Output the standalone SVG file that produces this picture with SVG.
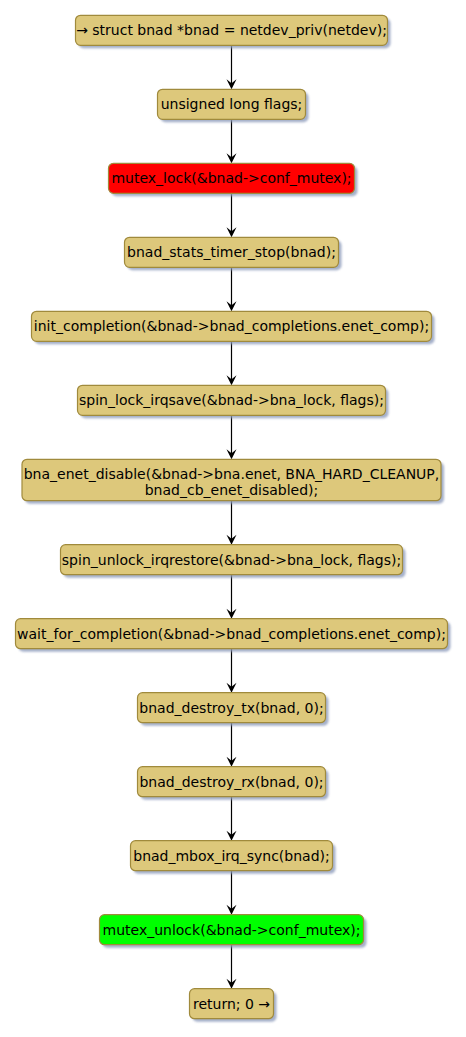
<svg xmlns="http://www.w3.org/2000/svg" width="466" height="1037" viewBox="0 0 466 1037">
<style>
.n rect.b{fill:#DDC87B;stroke:#A08A3C;stroke-width:1.2}
.n rect.s{fill:#8E9CBC;opacity:0.8;filter:url(#blur)}
.n text{font-family:"DejaVu Sans",sans-serif;font-size:14px;fill:#000;text-anchor:middle}
.c line{stroke:#000;stroke-width:1.2}
.c path{fill:#000}
</style>
<defs>
<filter id="blur" x="-10%" y="-30%" width="120%" height="160%"><feGaussianBlur stdDeviation="1"/></filter>
</defs>
<rect width="466" height="1037" fill="#fff"/>
<g class="c">
<line x1="231.5" y1="45.3" x2="231.5" y2="85"/><path d="M226.5,79.3 L231.5,89.3 L236.5,79.3 L231.5,83.3 Z"/>
<line x1="231.5" y1="119.3" x2="231.5" y2="159"/><path d="M226.5,153.3 L231.5,163.3 L236.5,153.3 L231.5,157.3 Z"/>
<line x1="231.5" y1="193.3" x2="231.5" y2="233"/><path d="M226.5,227.3 L231.5,237.3 L236.5,227.3 L231.5,231.3 Z"/>
<line x1="231.5" y1="267.3" x2="231.5" y2="307"/><path d="M226.5,301.3 L231.5,311.3 L236.5,301.3 L231.5,305.3 Z"/>
<line x1="231.5" y1="341.3" x2="231.5" y2="381"/><path d="M226.5,375.3 L231.5,385.3 L236.5,375.3 L231.5,379.3 Z"/>
<line x1="231.5" y1="415.3" x2="231.5" y2="455"/><path d="M226.5,449.3 L231.5,459.3 L236.5,449.3 L231.5,453.3 Z"/>
<line x1="231.5" y1="500.7" x2="231.5" y2="540"/><path d="M226.5,534.7 L231.5,544.7 L236.5,534.7 L231.5,538.7 Z"/>
<line x1="231.5" y1="574.7" x2="231.5" y2="614"/><path d="M226.5,608.7 L231.5,618.7 L236.5,608.7 L231.5,612.7 Z"/>
<line x1="231.5" y1="648.7" x2="231.5" y2="688"/><path d="M226.5,682.7 L231.5,692.7 L236.5,682.7 L231.5,686.7 Z"/>
<line x1="231.5" y1="722.7" x2="231.5" y2="762"/><path d="M226.5,756.7 L231.5,766.7 L236.5,756.7 L231.5,760.7 Z"/>
<line x1="231.5" y1="796.7" x2="231.5" y2="836"/><path d="M226.5,830.7 L231.5,840.7 L236.5,830.7 L231.5,834.7 Z"/>
<line x1="231.5" y1="870.7" x2="231.5" y2="910"/><path d="M226.5,904.7 L231.5,914.7 L236.5,904.7 L231.5,908.7 Z"/>
<line x1="231.5" y1="944.7" x2="231.5" y2="984"/><path d="M226.5,978.7 L231.5,988.7 L236.5,978.7 L231.5,982.7 Z"/>
</g>
<g id="n1" class="n"><rect class="s" x="78.5" y="18.3" width="312" height="30" rx="5"/><rect class="b" x="75.5" y="15.3" width="312" height="30" rx="5"/><text x="231.5" y="35.3">→ struct bnad *bnad = netdev_priv(netdev);</text></g>
<g id="n2" class="n"><rect class="s" x="160.5" y="92.3" width="148" height="30" rx="5"/><rect class="b" x="157.5" y="89.3" width="148" height="30" rx="5"/><text x="231.5" y="109.3">unsigned long flags;</text></g>
<g id="n3" class="n"><rect class="s" x="111.5" y="166.3" width="246" height="30" rx="5"/><rect class="b" x="108.5" y="163.3" width="246" height="30" rx="5" style="fill:#FF0000"/><text x="231.5" y="183.3">mutex_lock(&amp;bnad-&gt;conf_mutex);</text></g>
<g id="n4" class="n"><rect class="s" x="127.5" y="240.3" width="214" height="30" rx="5"/><rect class="b" x="124.5" y="237.3" width="214" height="30" rx="5"/><text x="231.5" y="257.3">bnad_stats_timer_stop(bnad);</text></g>
<g id="n5" class="n"><rect class="s" x="34.5" y="314.3" width="400" height="30" rx="5"/><rect class="b" x="31.5" y="311.3" width="400" height="30" rx="5"/><text x="231.5" y="331.3">init_completion(&amp;bnad-&gt;bnad_completions.enet_comp);</text></g>
<g id="n6" class="n"><rect class="s" x="80.5" y="388.3" width="308" height="30" rx="5"/><rect class="b" x="77.5" y="385.3" width="308" height="30" rx="5"/><text x="231.5" y="405.3">spin_lock_irqsave(&amp;bnad-&gt;bna_lock, flags);</text></g>
<g id="n7" class="n"><rect class="s" x="25" y="462.3" width="419" height="41.4" rx="5"/><rect class="b" x="22" y="459.3" width="419" height="41.4" rx="5"/><text x="231.5" y="478.5">bna_enet_disable(&amp;bnad-&gt;bna.enet, BNA_HARD_CLEANUP,</text><text x="231.5" y="494.5">bnad_cb_enet_disabled);</text></g>
<g id="n8" class="n"><rect class="s" x="63.5" y="547.7" width="342" height="30" rx="5"/><rect class="b" x="60.5" y="544.7" width="342" height="30" rx="5"/><text x="231.5" y="564.7">spin_unlock_irqrestore(&amp;bnad-&gt;bna_lock, flags);</text></g>
<g id="n9" class="n"><rect class="s" x="18.5" y="621.7" width="432" height="30" rx="5"/><rect class="b" x="15.5" y="618.7" width="432" height="30" rx="5"/><text x="231.5" y="638.7">wait_for_completion(&amp;bnad-&gt;bnad_completions.enet_comp);</text></g>
<g id="n10" class="n"><rect class="s" x="140.5" y="695.7" width="188" height="30" rx="5"/><rect class="b" x="137.5" y="692.7" width="188" height="30" rx="5"/><text x="231.5" y="712.7">bnad_destroy_tx(bnad, 0);</text></g>
<g id="n11" class="n"><rect class="s" x="140.5" y="769.7" width="188" height="30" rx="5"/><rect class="b" x="137.5" y="766.7" width="188" height="30" rx="5"/><text x="231.5" y="786.7">bnad_destroy_rx(bnad, 0);</text></g>
<g id="n12" class="n"><rect class="s" x="133.5" y="843.7" width="202" height="30" rx="5"/><rect class="b" x="130.5" y="840.7" width="202" height="30" rx="5"/><text x="231.5" y="860.7">bnad_mbox_irq_sync(bnad);</text></g>
<g id="n13" class="n"><rect class="s" x="102.5" y="917.7" width="264" height="30" rx="5"/><rect class="b" x="99.5" y="914.7" width="264" height="30" rx="5" style="fill:#00FF00"/><text x="231.5" y="934.7">mutex_unlock(&amp;bnad-&gt;conf_mutex);</text></g>
<g id="n14" class="n"><rect class="s" x="192.5" y="991.7" width="84" height="30" rx="5"/><rect class="b" x="189.5" y="988.7" width="84" height="30" rx="5"/><text x="231.5" y="1008.7">return; 0 →</text></g>
</svg>
